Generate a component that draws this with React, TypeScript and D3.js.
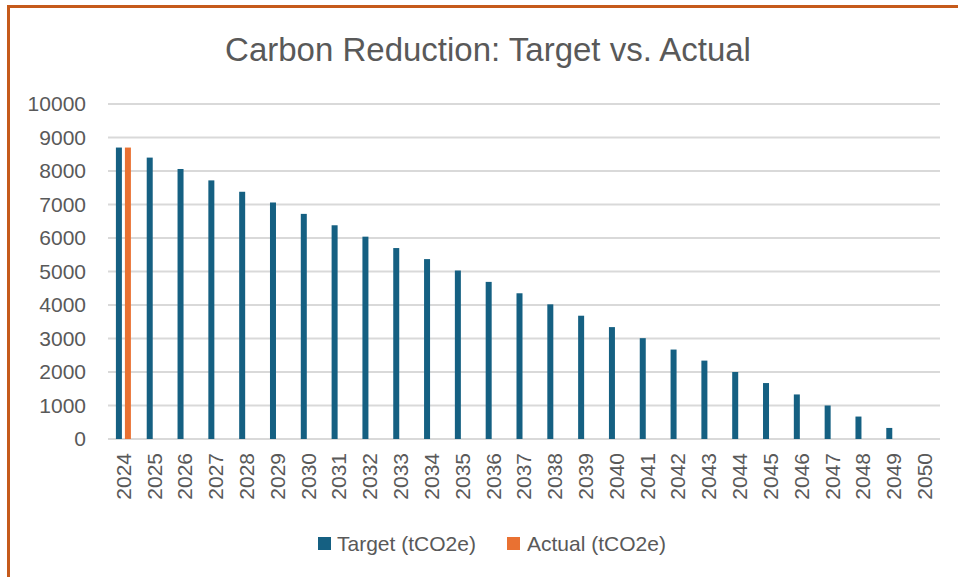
import React from "react";
import * as d3 from "d3";

const years: string[] = [
  "2024","2025","2026","2027","2028","2029","2030","2031","2032","2033","2034","2035","2036",
  "2037","2038","2039","2040","2041","2042","2043","2044","2045","2046","2047","2048","2049","2050",
];
const targetValues: number[] = [
  8700, 8400, 8060, 7720, 7380, 7060, 6720, 6380, 6040, 5700, 5370, 5030, 4690,
  4350, 4020, 3680, 3340, 3010, 2670, 2340, 2000, 1670, 1330, 1000, 670, 330, 0,
];
const actualValues: (number | null)[] = [
  8700, null, null, null, null, null, null, null, null, null, null, null, null,
  null, null, null, null, null, null, null, null, null, null, null, null, null, null,
];
const yTicks: number[] = [0, 1000, 2000, 3000, 4000, 5000, 6000, 7000, 8000, 9000, 10000];
const seriesNames: string[] = ["Target (tCO2e)", "Actual (tCO2e)"];
const title = "Carbon Reduction: Target vs. Actual";

const W = 958;
const H = 577;
const FONT = "'Liberation Sans', Arial, sans-serif";
const TEXT = "#595959";
const BLUE = "#156082";
const ORANGE = "#E97132";
const GRID = "#D9D9D9";
const BORDER = "#C55A1B";

export default function App() {
  const plotLeft = 108;
  const plotRight = 940;
  const plotTop = 104;
  const plotBottom = 439;

  const x = d3.scaleBand<string>().domain(years).range([plotLeft, plotRight]).padding(0);
  const y = d3.scaleLinear().domain([0, 10000]).range([plotBottom, plotTop]);
  const barW = 6;
  const gap = 1.5;

  return (
    <svg
      width={W}
      height={H}
      style={{ position: "absolute", left: 0, top: 0, display: "block", background: "#fff" }}
      fontFamily={FONT}
    >
      <rect x={0} y={0} width={W} height={H} fill="#fff" />
      {/* border */}
      <line x1={8.5} y1={6.5} x2={W} y2={6.5} stroke={BORDER} strokeWidth={3} />
      <line x1={8.5} y1={5} x2={8.5} y2={H} stroke={BORDER} strokeWidth={3} />

      <text x={488} y={61} textAnchor="middle" fontSize={33} fill={TEXT}>
        {title}
      </text>

      {/* gridlines */}
      {yTicks.map((t) => (
        <line key={t} x1={plotLeft} x2={plotRight} y1={y(t)} y2={y(t)} stroke={GRID} strokeWidth={2} />
      ))}
      {/* y labels */}
      {yTicks.map((t) => (
        <text key={"l" + t} x={86} y={y(t)} dy="0.35em" textAnchor="end" fontSize={21} fill={TEXT}>
          {t}
        </text>
      ))}

      {/* bars */}
      {years.map((yr, i) => {
        const c = (x(yr) as number) + x.bandwidth() / 2;
        const tv = targetValues[i];
        const av = actualValues[i];
        return (
          <g key={yr}>
            {tv > 0 && (
              <rect x={c - gap - barW} y={y(tv)} width={barW} height={plotBottom - y(tv)} fill={BLUE} />
            )}
            {av != null && av > 0 && (
              <rect x={c + gap} y={y(av)} width={barW} height={plotBottom - y(av)} fill={ORANGE} />
            )}
          </g>
        );
      })}

      {/* x labels */}
      {years.map((yr) => {
        const c = (x(yr) as number) + x.bandwidth() / 2;
        return (
          <text
            key={"x" + yr}
            transform={`translate(${c},453) rotate(-90)`}
            textAnchor="end"
            dy="0.35em"
            fontSize={21}
            fill={TEXT}
          >
            {yr}
          </text>
        );
      })}

      {/* legend */}
      <rect x={318} y={537} width={13} height={13} fill={BLUE} />
      <text x={337} y={543.5} dy="0.35em" fontSize={21} fill={TEXT}>
        {seriesNames[0]}
      </text>
      <rect x={507} y={537} width={13} height={13} fill={ORANGE} />
      <text x={527} y={543.5} dy="0.35em" fontSize={21} fill={TEXT}>
        {seriesNames[1]}
      </text>
    </svg>
  );
}
